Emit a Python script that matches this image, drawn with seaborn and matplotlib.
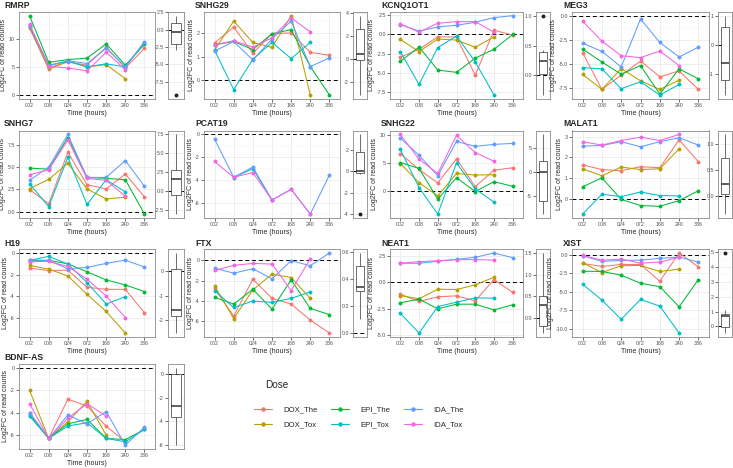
import numpy as np
import pandas as pd
import matplotlib
matplotlib.use("Agg")
import matplotlib.pyplot as plt
import seaborn as sns
from matplotlib.ticker import MultipleLocator, AutoMinorLocator, FormatStrFormatter, NullLocator
from matplotlib.lines import Line2D

N = np.nan
times = ["002", "008", "024", "072", "168", "240", "336"]
doses = ["DOX_The", "DOX_Tox", "EPI_The", "EPI_Tox", "IDA_The", "IDA_Tox"]
colors = ["#F8766D", "#B79F00", "#00BA38", "#00BFC4", "#619CFF", "#F564E3"]

rmrp = {
    "DOX_The": [11.9, 4.6, 5.9, 5.3, 8.5, 4.8, 8.3],
    "DOX_Tox": [12.2, 4.8, 6.0, 5.0, 5.4, 2.9, N],
    "EPI_The": [14.1, 5.8, 6.3, 6.55, 9.1, 5.3, 9.0],
    "EPI_Tox": [12.3, 5.3, 6.0, 5.0, 5.55, 5.0, 9.3],
    "IDA_The": [12.5, 5.2, 6.1, 5.6, 8.3, 5.0, 9.5],
    "IDA_Tox": [12.6, 5.1, 4.8, 4.3, 7.6, 4.5, N],
}
rmrp_box = [-9.4, -3.0, -2.1, -1.2, -0.4, 0.3, 1.0, 1.5, 2.0]

snhg29 = {
    "DOX_The": [1.58, 2.25, 1.14, 1.97, 2.0, 1.18, 1.06],
    "DOX_Tox": [1.28, 2.5, 1.6, 1.39, 2.73, -0.62, N],
    "EPI_The": [1.5, 1.64, 1.3, 1.97, 2.14, 0.58, -0.62],
    "EPI_Tox": [1.28, -0.39, 0.89, 1.6, 0.92, 1.6, N],
    "IDA_The": [1.23, 1.64, 0.86, 1.75, 2.5, 0.58, 0.95],
    "IDA_Tox": [1.5, 1.67, 1.4, 1.8, 2.64, 2.04, N],
}
snhg29_box = [-3.1, -1.0, -0.02, 0.2, 0.43, 1.5, 2.6, 3.2, 3.78]

kcnq1ot1 = {
    "DOX_The": [-2.97, -1.94, -0.3, -0.34, -5.34, 0.56, -0.09],
    "DOX_Tox": [-0.65, -2.24, -0.6, -0.73, -1.68, -0.3, N],
    "EPI_The": [-3.53, -1.64, -4.66, -4.96, -3.1, -1.94, 0.0],
    "EPI_Tox": [-2.24, -6.55, -1.72, -0.2, -3.58, -7.93, N],
    "IDA_The": [1.29, 0.43, 0.99, 1.2, 1.6, 2.2, 2.46],
    "IDA_Tox": [1.38, 0.3, 1.47, 1.68, 1.68, 0.3, N],
}
kcnq1ot1_box = [-0.33, -0.1, 0.03, 0.15, 0.25, 0.33, 0.39, 0.43, 1.01]

meg3 = {
    "DOX_The": [-3.82, -7.61, -6.14, -4.68, -6.31, -5.7, -7.61],
    "DOX_Tox": [-6.07, -7.61, -5.46, -6.72, -7.61, -6.66, N],
    "EPI_The": [-3.45, -4.78, -6.04, -5.15, -8.09, -5.49, -6.52],
    "EPI_Tox": [-5.36, -5.49, -7.54, -6.83, -8.19, -7.1, N],
    "IDA_The": [-2.83, -3.69, -5.29, -0.34, -2.76, -4.27, -3.24],
    "IDA_Tox": [-0.58, -2.63, -4.13, -4.33, -3.65, -5.15, N],
}
meg3_box = [-1.74, -1.5, -1.23, -0.9, -0.63, 0.0, 0.61, 0.8, 1.0]

snhg7 = {
    "DOX_The": [2.48, 0.89, 6.67, 3.04, 2.56, 4.22, 1.67],
    "DOX_Tox": [2.59, 3.63, 5.44, 2.56, 1.44, 1.63, N],
    "EPI_The": [4.89, 4.78, 8.33, 3.85, 3.74, 3.59, -0.26],
    "EPI_Tox": [3.15, 0.56, 6.11, 0.81, 3.59, 2.22, N],
    "IDA_The": [3.52, 5.0, 8.67, 3.85, 3.85, 5.74, 2.85],
    "IDA_Tox": [4.15, 4.7, 8.04, 3.74, 3.52, 1.74, N],
}
snhg7_box = [-3.1, -1.5, -0.53, 0.5, 1.63, 2.2, 2.8, 5.0, 7.5]

pcat19 = {
    "DOX_The": [N, N, N, N, N, N, N],
    "DOX_Tox": [N, N, N, N, N, N, N],
    "EPI_The": [N, N, N, N, N, N, N],
    "EPI_Tox": [N, -3.8, -3.0, -5.8, N, N, N],
    "IDA_The": [-0.41, -3.77, -2.87, -5.77, -4.84, -7.01, -3.57],
    "IDA_Tox": [-2.38, -3.77, -3.36, -5.77, -4.84, -7.01, N],
}
pcat19_box = [-4.0, -0.2, -0.16, -0.05, 0.06, 0.9, 1.8, 2.6, 3.47]

snhg22 = {
    "DOX_The": [6.73, 3.87, 1.43, 5.77, 0.77, 3.75, 4.17],
    "DOX_Tox": [4.94, 1.49, -0.89, 3.15, 2.86, 2.92, N],
    "EPI_The": [5.12, 4.05, -1.49, 2.38, -0.12, 1.67, 0.83],
    "EPI_Tox": [7.5, 0.6, -4.17, 5.06, 0.36, -2.02, N],
    "IDA_The": [9.52, 6.43, 2.74, 8.93, 8.04, 8.39, 8.57],
    "IDA_Tox": [10.18, 5.71, 3.15, 10.0, 6.9, 5.36, N],
}
snhg22_box = [-8.77, -7.5, -6.16, -3.0, 0.05, 1.2, 2.19, 5.0, 7.74]

malat1 = {
    "DOX_The": [1.64, 1.41, 1.36, 1.55, 1.5, 2.84, 1.79],
    "DOX_Tox": [1.45, 1.11, 1.53, 1.41, 1.45, 2.4, N],
    "EPI_The": [0.58, 1.01, -0.03, -0.32, -0.36, -0.08, 0.39],
    "EPI_Tox": [-0.73, 0.22, 0.11, 0.33, 0.16, 0.14, N],
    "IDA_The": [2.54, 2.57, 2.75, 2.51, 2.75, 2.94, 2.59],
    "IDA_Tox": [2.75, 2.59, 2.81, 2.97, 2.81, 3.1, N],
}
malat1_box = [-0.36, -0.15, 0.03, 0.12, 0.22, 0.5, 0.74, 1.0, 1.19]

h19 = {
    "DOX_The": [-1.41, -1.63, -1.59, -3.19, -3.38, -3.38, -5.56],
    "DOX_Tox": [-1.16, -1.5, -2.13, -3.84, -5.44, -7.44, N],
    "EPI_The": [-0.72, -0.69, -1.0, -1.75, -2.5, -2.97, -3.59],
    "EPI_Tox": [-0.69, -0.31, -1.03, -2.75, -4.75, -4.06, N],
    "IDA_The": [-0.63, -0.69, -1.47, -1.34, -0.97, -0.66, -1.31],
    "IDA_Tox": [-0.81, -0.78, -1.25, -2.44, -4.0, -6.0, N],
}
h19_box = [-2.51, -2.1, -1.81, -1.7, -1.57, -0.8, 0.09, 0.4, 0.72]

ftx = {
    "DOX_The": [-2.77, -5.53, -1.87, -3.77, -4.33, -5.93, -7.2],
    "DOX_Tox": [-2.53, -5.77, -2.93, -1.37, -1.7, -3.77, N],
    "EPI_The": [-3.67, -4.33, -2.87, -4.83, -1.93, -4.77, -5.37],
    "EPI_Tox": [-3.0, -4.67, -4.03, -4.17, -3.77, -3.13, N],
    "IDA_The": [-0.77, -1.27, -0.83, -1.83, -0.03, -0.53, 0.73],
    "IDA_Tox": [-1.0, -0.5, -0.3, -0.37, -3.0, 0.17, N],
}
ftx_box = [0.105, 0.2, 0.31, 0.32, 0.34, 0.42, 0.495, 0.55, 0.595]

neat1 = {
    "DOX_The": [-1.13, -1.82, -1.38, -1.29, -1.76, 0.25, -0.97],
    "DOX_Tox": [-1.26, -1.57, -0.66, -0.69, -0.25, 0.47, N],
    "EPI_The": [-1.95, -1.6, -2.52, -2.08, -2.08, -2.62, -2.14],
    "EPI_Tox": [-2.94, -4.81, -2.3, -1.89, -1.48, -1.5, N],
    "IDA_The": [1.8, 1.8, 1.98, 2.17, 2.36, 2.77, 2.33],
    "IDA_Tox": [1.8, 1.95, 2.04, 2.14, 2.14, 2.1, N],
}
neat1_box = [-0.36, -0.28, -0.2, 0.1, 0.29, 0.4, 0.49, 1.0, 1.5]

xist = {
    "DOX_The": [-1.18, -1.59, -1.32, -1.32, -3.59, 0.23, -1.64],
    "DOX_Tox": [-1.09, -2.41, -1.5, -1.45, -2.27, -1.95, N],
    "EPI_The": [-2.23, -2.27, -2.77, -3.86, -4.32, -7.05, -3.36],
    "EPI_Tox": [-4.0, -6.14, -8.73, -6.05, -6.95, -10.59, N],
    "IDA_The": [-0.14, -0.91, -0.77, -0.73, -0.5, -0.32, -1.0],
    "IDA_Tox": [-0.09, -0.73, -0.59, -1.14, -1.0, -0.36, N],
}
xist_box = [-0.45, -0.2, -0.02, 0.3, 0.67, 0.75, 0.83, 1.12, 4.95]

bdnf_as = {
    "DOX_The": [-4.0, -6.3, -2.8, -3.4, -5.2, -6.6, N],
    "DOX_Tox": [-2.0, -6.3, -4.8, -3.0, -6.0, N, N],
    "EPI_The": [-4.2, -6.3, -5.0, -4.6, -6.3, -6.4, -5.5],
    "EPI_Tox": [-4.3, -6.3, -5.2, -4.9, -6.3, -6.6, -5.5],
    "IDA_The": [-4.0, -6.3, -4.2, -5.0, -3.9, -6.9, -5.3],
    "IDA_Tox": [-3.2, -6.3, -4.5, -3.2, -4.3, N, N],
}
bdnf_as_box = [-6.0, -4.5, -3.6, -3.0, -2.7, -1.0, 0.0, 0.3, 0.5]

gene_names = ["RMRP", "SNHG29", "KCNQ1OT1", "MEG3", "SNHG7", "PCAT19", "SNHG22",
              "MALAT1", "H19", "FTX", "NEAT1", "XIST", "BDNF-AS"]
gene_series = [rmrp, snhg29, kcnq1ot1, meg3, snhg7, pcat19, snhg22, malat1, h19, ftx,
               neat1, xist, bdnf_as]
gene_boxes = [rmrp_box, snhg29_box, kcnq1ot1_box, meg3_box, snhg7_box, pcat19_box,
              snhg22_box, malat1_box, h19_box, ftx_box, neat1_box, xist_box, bdnf_as_box]
main_steps = [5, 1, 2.5, 2.5, 2.5, 2, 5, 1, 2, 2, 2.5, 2.5, 2]
main_fmts = ["%d", "%d", "%.1f", "%.1f", "%.1f", "%d", "%d", "%d", "%d", "%d", "%.1f", "%.1f", "%d"]
box_steps = [2.5, 2, 0.5, 1, 2.5, 2, 5, 0.5, 1, 0.2, 0.5, 1, 2]
box_fmts = ["%.1f", "%d", "%.1f", "%d", "%.1f", "%d", "%d", "%.1f", "%d", "%.1f", "%.1f", "%d", "%d"]

sns.set_theme(style="white")
plt.rcParams["font.family"] = ["Liberation Sans", "DejaVu Sans"]
plt.rcParams["axes.unicode_minus"] = False

W, H = 733, 468
fig = plt.figure(figsize=(W / 100, H / 100), dpi=100)


def rect(x0, x1, y0, y1):
    return [x0 / W, 1 - y1 / H, (x1 - x0) / W, (y1 - y0) / H]


col_main = [(19, 155), (204, 340), (390, 523), (572, 709)]
col_box = [(168, 184), (353, 367), (536, 550), (718, 732)]
row_y = [(11.7, 99), (130.5, 218), (249, 337), (364, 449)]
title_x = [4, 195, 381, 563]
title_y = [5.5, 123, 243, 358]
pal = dict(zip(doses, colors))

TICK = 3.8
LAB = 5.0


def style(ax, step, fmt):
    ax.set_facecolor("white")
    ax.yaxis.set_major_locator(MultipleLocator(step))
    ax.yaxis.set_minor_locator(AutoMinorLocator(2))
    ax.yaxis.set_major_formatter(FormatStrFormatter(fmt))
    ax.xaxis.set_minor_locator(NullLocator())
    ax.grid(True, which="major", color="#ebebeb", lw=0.6)
    ax.grid(True, which="minor", axis="y", color="#f5f5f5", lw=0.35)
    ax.set_axisbelow(True)
    for s in ax.spines.values():
        s.set_visible(True)
        s.set_color("#8a8a8a")
        s.set_linewidth(0.6)
    ax.tick_params(which="major", length=2, width=0.5, color="#333333",
                   labelsize=TICK, labelcolor="#4d4d4d", pad=1, left=True, bottom=True)
    ax.tick_params(which="minor", length=0)


def padded(vals):
    lo, hi = min(min(vals), 0), max(max(vals), 0)
    p = 0.05 * (hi - lo)
    return lo - p, hi + p


for i, name in enumerate(gene_names):
    r, c = divmod(i, 4)
    series = gene_series[i]
    rows = []
    for ti, t in enumerate(times):
        for d in doses:
            v = series[d][ti]
            if not np.isnan(v):
                rows.append((ti, t, d, v))
    df = pd.DataFrame(rows, columns=["pos", "time", "dose", "val"])

    y0, y1 = row_y[r]
    ax = fig.add_axes(rect(col_main[c][0], col_main[c][1], y0, y1))
    ax.axhline(0, ls=(0, (4, 3)), color="black", lw=0.7, zorder=1)
    sns.lineplot(data=df, x="pos", y="val", hue="dose", hue_order=[d for d in doses if d in set(df.dose)],
                 palette=pal, marker="o", markersize=2.8, markeredgewidth=0, lw=0.75,
                 ax=ax, legend=False, sort=True, zorder=3)
    style(ax, main_steps[i], main_fmts[i])
    ax.set_xticks(range(len(times)))
    ax.set_xticklabels(times)
    ax.set_xlim(-0.55, len(times) - 0.45)
    ax.set_ylim(*padded(df["val"].tolist()))
    ax.set_xlabel("Time (hours)", fontsize=LAB, labelpad=1.2)
    ax.set_ylabel("Log2FC of read counts", fontsize=LAB, labelpad=1)
    fig.text(title_x[c] / W, 1 - title_y[r] / H, name, fontsize=6.2, fontweight="bold",
             ha="left", va="center")

    box = gene_boxes[i]
    axb = fig.add_axes(rect(col_box[c][0], col_box[c][1], y0, y1))
    axb.axhline(0, ls=(0, (4, 3)), color="black", lw=0.7, zorder=1)
    sns.boxplot(y=box, ax=axb, color="white", linecolor="#333333", linewidth=0.5,
                width=0.7, fliersize=1.8,
                flierprops=dict(marker="o", markerfacecolor="#222222", markeredgecolor="#222222"),
                medianprops=dict(linewidth=1.1, color="#333333"),
                capprops=dict(visible=False))
    style(axb, box_steps[i], box_fmts[i])
    axb.set_xticks([])
    axb.set_xlim(-0.6, 0.6)
    axb.set_ylim(*padded(box))
    axb.grid(False, axis="x")
    axb.set_xlabel("")
    axb.set_ylabel("")

fig.text(265 / W, 1 - 385 / H, "Dose", fontsize=7.2, ha="left", va="center")
handles = [Line2D([], [], color=col, marker="o", markersize=3.2, markeredgewidth=0, lw=0.8)
           for col in colors]
leg = fig.legend(handles, doses, loc="upper left", bbox_to_anchor=(254 / W, 1 - 406 / H),
                 ncol=3, frameon=False, fontsize=5.6,
                 handlelength=2.3, handletextpad=1.5, columnspacing=1.7, labelspacing=0.95,
                 borderaxespad=0, borderpad=0)

fig.savefig("out.png", dpi=100)
